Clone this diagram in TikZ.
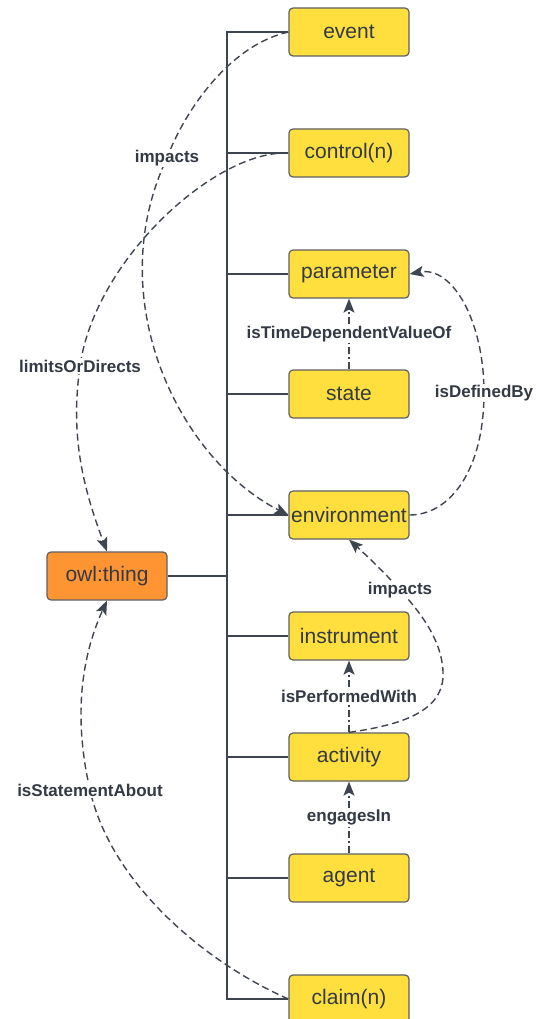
\documentclass[tikz,border=0pt]{standalone}
\usepackage{fontspec}
\setmainfont{Liberation Sans}
\usetikzlibrary{arrows.meta}
\definecolor{boxyellow}{HTML}{FFDF3D}
\definecolor{boxorange}{HTML}{FF9432}
\definecolor{linegray}{HTML}{3F4550}
\definecolor{textgray}{HTML}{333A45}
\definecolor{bordergray}{HTML}{5F6064}
\tikzset{
  cls/.style={draw=bordergray, line width=1.2pt, rounded corners=4pt, fill=boxyellow,
    minimum width=120pt, minimum height=48pt, inner sep=0pt, text=textgray,
    font=\fontsize{21}{24}\selectfont},
  rootcls/.style={cls, fill=boxorange},
  tree/.style={draw=linegray, line width=1.1pt},
  rel/.style={draw=linegray, line width=1.4pt, dash pattern=on 7pt off 4pt,
    -{Stealth[length=14pt,width=11pt,inset=3pt]}},
  reldd/.style={rel, dash pattern=on 7pt off 3pt on 2pt off 3pt},
  lbl/.style={fill=white, inner sep=1.5pt, text=textgray,
    font=\fontsize{17}{20}\bfseries\selectfont}
}
\begin{document}
\begin{tikzpicture}[x=1pt,y=-1pt]
\useasboundingbox (0,0) rectangle (536,1019);
% class nodes
\node[cls] (event) at (349,32) {event};
\node[cls] (control) at (349,153) {control(n)};
\node[cls] (parameter) at (349,274) {parameter};
\node[cls] (state) at (349,394) {state};
\node[cls] (environment) at (349,515) {environment};
\node[cls] (instrument) at (349,636) {instrument};
\node[cls] (activity) at (349,757) {activity};
\node[cls] (agent) at (349,878) {agent};
\node[cls] (claim) at (349,999) {claim(n)};
\node[rootcls] (thing) at (107,576) {owl:thing};
% tree trunk
\coordinate (ttop) at (227,32);
\coordinate (tbot) at (227,999);
\coordinate (tmid) at (227,576);
\draw[tree] (event.west) -- (ttop) -- (tbot) -- (claim.west);
\draw[tree] (thing.east) -- (tmid);
\foreach \n in {control,parameter,state,environment,instrument,activity,agent}{
  \draw[tree] (\n.west) -- (\n.west -| ttop);
}
% straight relations
\draw[reldd] (state.north) -- node[lbl]{isTimeDependentValueOf} (parameter.south);
\draw[reldd] (activity.north) -- node[lbl]{isPerformedWith} (instrument.south);
\draw[reldd] (agent.north) -- node[lbl]{engagesIn} (activity.south);
% curved relations
\draw[rel] (event.west) .. controls (230,45) and (185,110) .. (167,158)
  node[lbl]{impacts}
  .. controls (100,300) and (180,460) .. (environment.west);
\draw[rel] (control.west) .. controls (215,150) and (95,260) .. (80,366)
  node[lbl]{limitsOrDirects}
  .. controls (71,430) and (80,480) .. (thing.north);
\draw[rel] (environment.east) .. controls (450,515) and (484,470) .. (484,393)
  node[lbl]{isDefinedBy}
  .. controls (484,320) and (452,266) .. (parameter.east);
\draw[rel] (activity.north) .. controls (400,725) and (445,712) .. (443,672)
  .. controls (442,640) and (420,612) .. (400,590)
  node[lbl]{impacts}
  .. controls (385,573) and (365,554) .. (environment.south);
\draw[rel] (claim.west) .. controls (200,960) and (110,880) .. (90,790)
  node[lbl]{isStatementAbout}
  .. controls (74,720) and (80,660) .. (thing.south);
\end{tikzpicture}
\end{document}
